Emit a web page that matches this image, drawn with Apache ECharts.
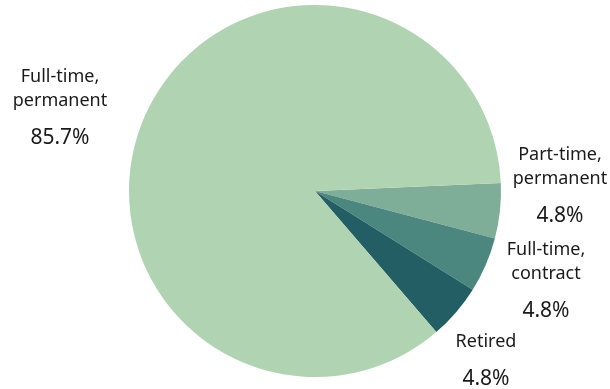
<!DOCTYPE html>
<html>
<head>
<meta charset="utf-8">
<script src="https://cdn.jsdelivr.net/npm/echarts@6/dist/echarts.min.js"></script>
<style>
  html, body { margin: 0; padding: 0; background: #fff; }
  #chart { width: 610px; height: 389px; }
</style>
</head>
<body>
<div id="chart"></div>
<script>
// slices, clockwise from the right
const categories = ["Part-time,\npermanent", "Full-time,\ncontract", "Retired", "Full-time,\npermanent"];
const values = [4.8, 4.8, 4.8, 85.7];
const colors = ["#7fae98", "#4b877e", "#235e64", "#b0d4b2"];

// where each label block sits (top-centre)
const labelSpots = [
  [560, 143],
  [546, 238],
  [486, 330],
  [60, 65]
];

const myChart = echarts.init(document.getElementById("chart"));

const options = {
  animation: false,
  series: [
    {
      type: "pie",
      center: [315, 191],
      radius: [0, 186],
      startAngle: 2.5,
      clockwise: true,
      data: categories.map((name, i) => ({
        name: name,
        value: values[i],
        itemStyle: { color: colors[i] },
      })),
      label: {
        show: true,
        position: "outside",
        overflow: "none",
        formatter: (p) =>
          p.name.split("\n").map((s) => "{n|" + s + "}").join("\n") +
          "\n{p|" + p.value + "%}",
        rich: {
          n: { fontFamily: "Noto Sans", fontSize: 18, lineHeight: 24, color: "#1a1a1a" },
          p: { fontFamily: "Noto Sans", fontSize: 21, lineHeight: 50, color: "#1a1a1a" },
        },
      },
      labelLine: { show: false },
      labelLayout: (params) => ({
        x: labelSpots[params.dataIndex][0],
        y: labelSpots[params.dataIndex][1],
        align: "center",
        verticalAlign: "top",
      }),
    },
  ],
};

myChart.setOption(options);
</script>
</body>
</html>
